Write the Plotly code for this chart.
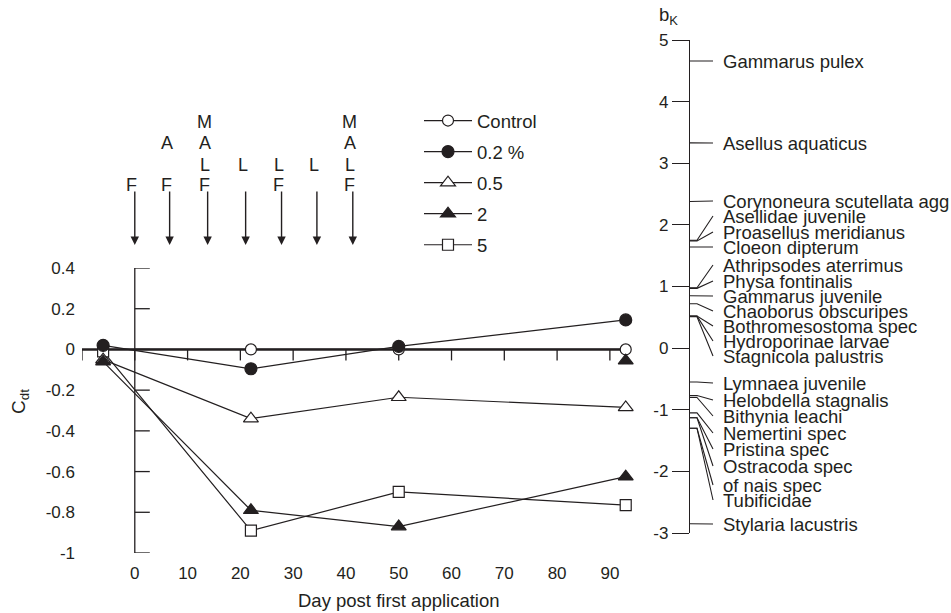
import plotly.graph_objects as go

# ---- data -------------------------------------------------------------
days = [-6, 22, 50, 93]
series_names = ["Control", "0.2 %", "0.5", "2", "5"]
control = [0.0, 0.0, 0.0, 0.0]
conc_02 = [0.02, -0.095, 0.015, 0.145]
conc_05 = [-0.05, -0.34, -0.235, -0.285]
conc_2 = [-0.06, -0.79, -0.87, -0.625]
conc_5 = [-0.01, -0.89, -0.70, -0.765]
extra_day = [93]
extra_val = [-0.055]

# application events (days) and their codes
event_days = [0, 6.6, 13.8, 21, 27.8, 34.5, 41.3]
event_codes = ["F", "AF", "MALF", "L", "LF", "L", "MALF"]

# species weights on the b_K axis
species = [
    "Gammarus pulex", "Asellus aquaticus", "Corynoneura scutellata agg",
    "Asellidae juvenile", "Proasellus meridianus", "Cloeon dipterum",
    "Athripsodes aterrimus", "Physa fontinalis", "Gammarus juvenile",
    "Chaoborus obscuripes", "Bothromesostoma spec", "Hydroporinae larvae",
    "Stagnicola palustris", "Lymnaea juvenile", "Helobdella stagnalis",
    "Bithynia leachi", "Nemertini spec", "Pristina spec", "Ostracoda spec",
    "of nais spec", "Tubificidae", "Stylaria lacustris",
]
b_k = [4.66, 3.33, 2.38, 1.75, 1.74, 1.64, 0.98, 0.97, 0.85, 0.72,
       0.52, 0.52, 0.51, -0.55, -0.77, -0.80, -1.05, -1.13, -1.13,
       -1.30, -1.30, -2.85]

x_ticks = [0, 10, 20, 30, 40, 50, 60, 70, 80, 90]
y_ticks = [0.4, 0.2, 0, -0.2, -0.4, -0.6, -0.8, -1]
bk_ticks = [5, 4, 3, 2, 1, 0, -1, -2, -3]

# ---- layout geometry --------------------------------------------------
W, H = 951, 613
ML, MR, MT, MB = 82, 0, 40, 60
PW, PH = W - ML - MR, H - MT - MB
XR = [-10, 94]
YR = [-1, 0.4]
BKR = [-3, 5]
x_dom_end = 549 / PW
y_dom_end = 285 / PH
bk_dom = [20 / PH, 1]
bk_axis_px = 690
INK = "#231f20"
FONT = "Liberation Sans, Arial, sans-serif"


def px_to_paper_y(p):
    return (H - MB - p) / PH


def px_to_bk(p):
    top = MT
    bottom = H - MB - bk_dom[0] * PH
    return BKR[1] - (p - top) / (bottom - top) * (BKR[1] - BKR[0])


def fmt(v):
    return f"{v:g}"


fig = go.Figure()

styles = {
    "Control": dict(symbol="circle", color="white", size=11),
    "0.2 %": dict(symbol="circle", color=INK, size=12),
    "0.5": dict(symbol="triangle-up", color="white", size=13),
    "2": dict(symbol="triangle-up", color=INK, size=13),
    "5": dict(symbol="square", color="white", size=11),
}
values = {"Control": control, "0.2 %": conc_02, "0.5": conc_05,
          "2": conc_2, "5": conc_5}

# stacking order of the markers (last drawn on top)
draw_order = ["Control", "5", "0.5", "2", "0.2 %"]
for name in draw_order:
    st = styles[name]
    fig.add_trace(go.Scatter(
        x=days, y=values[name], name=name, mode="lines+markers",
        line=dict(color=INK, width=1.2),
        marker=dict(symbol=st["symbol"], size=st["size"], color=st["color"],
                    line=dict(color=INK, width=1.2)),
        legendrank=series_names.index(name) + 1, legendgroup=name,
        cliponaxis=False,
    ))

fig.add_trace(go.Scatter(
    x=extra_day, y=extra_val, mode="markers", showlegend=False,
    cliponaxis=False,
    marker=dict(symbol="triangle-up", size=13, color=INK,
                line=dict(color=INK, width=1.2)),
))

# leader lines from the b_K axis to the species names
label_px = [61, 143, 201, 216, 232, 247, 265, 281, 296, 311, 326, 341, 356,
            383, 400, 416, 433, 449, 466, 485, 500, 524]
lx, ly = [], []
for b, lp in zip(b_k, label_px):
    lab = px_to_bk(lp)
    lx += [0, 7, 23, None]
    ly += [b, b, lab, None]
fig.add_trace(go.Scatter(
    x=lx, y=ly, mode="lines", showlegend=False, xaxis="x3", yaxis="y2",
    line=dict(color=INK, width=1.1), hoverinfo="skip", cliponaxis=False,
))

annotations = []
for name, lp in zip(species, label_px):
    annotations.append(dict(
        x=31, y=px_to_bk(lp), xref="x3", yref="y2", text=name,
        showarrow=False, xanchor="left", yanchor="middle",
        font=dict(size=18.5, color=INK, family=FONT),
    ))

# application arrows with event letters
tip_y = px_to_paper_y(245)
row_px = {"F": 185, "L": 165, "A": 143, "M": 122}
for d, code in zip(event_days, event_codes):
    annotations.append(dict(
        x=d, y=tip_y, xref="x", yref="paper", text="", showarrow=True,
        ax=0, ay=-55, arrowhead=2, arrowsize=1.2, arrowwidth=1.4,
        arrowcolor=INK, standoff=0,
    ))
    for ch in code:
        annotations.append(dict(
            x=d, y=px_to_paper_y(row_px[ch]), xref="x", yref="paper",
            text=ch, showarrow=False, xshift=-3, yanchor="middle",
            font=dict(size=18, color=INK, family=FONT),
        ))

annotations += [
    dict(xref="paper", yref="paper", x=(20 - ML) / PW,
         y=px_to_paper_y(402), text="C<sub>dt</sub>", textangle=-90,
         showarrow=False, xanchor="center", yanchor="middle",
         font=dict(size=19, color=INK, family=FONT)),
    dict(xref="paper", yref="paper", x=(399 - ML) / PW,
         y=px_to_paper_y(600), text="Day post first application",
         showarrow=False, xanchor="center", yanchor="middle",
         font=dict(size=18.5, color=INK, family=FONT)),
    dict(xref="paper", yref="paper", x=(668 - ML) / PW,
         y=px_to_paper_y(16), text="b<sub>K</sub>",
         showarrow=False, xanchor="center", yanchor="middle",
         font=dict(size=18.5, color=INK, family=FONT)),
]

# tick marks: inward on the C_dt axis, downward on the zero line
shapes = []
for v in y_ticks:
    shapes.append(dict(
        type="line", xref="x", xsizemode="pixel", xanchor=0, x0=0, x1=15,
        yref="y", y0=v, y1=v, layer="below",
        line=dict(color=INK, width=1.3),
    ))
for v in [-10] + x_ticks:
    shapes.append(dict(
        type="line", xref="x", x0=v, x1=v, yref="y", ysizemode="pixel",
        yanchor=0, y0=0, y1=-11, layer="below",
        line=dict(color=INK, width=1.3),
    ))
# zero line acting as the time axis
shapes.append(dict(
    type="line", xref="x", x0=XR[0], x1=XR[1], yref="y", y0=0, y1=0,
    layer="below", line=dict(color=INK, width=2.6),
))
# C_dt axis line at day 0
shapes.append(dict(
    type="line", xref="x", x0=0, x1=0, yref="y", y0=YR[0], y1=YR[1],
    layer="below", line=dict(color=INK, width=1.3),
))

fig.update_layout(
    width=W, height=H,
    margin=dict(l=ML, r=MR, t=MT, b=MB, pad=0),
    paper_bgcolor="white", plot_bgcolor="white",
    font=dict(family=FONT, color=INK, size=17),
    showlegend=True,
    legend=dict(
        x=(419 - ML) / PW, y=px_to_paper_y(102), xanchor="left",
        yanchor="top", font=dict(size=18.5, color=INK),
        tracegroupgap=4, itemwidth=48, bgcolor="rgba(0,0,0,0)",
    ),
    xaxis=dict(
        domain=[0, x_dom_end], range=XR, anchor="y",
        showline=False, showgrid=False, zeroline=False, ticks="",
        tickvals=x_ticks, ticktext=[fmt(v) for v in x_ticks],
        tickfont=dict(size=17), ticklabelstandoff=8,
    ),
    yaxis=dict(
        domain=[0, y_dom_end], range=YR, anchor="x",
        showline=False, showgrid=False, zeroline=False, ticks="",
        tickvals=y_ticks, ticktext=[fmt(v) for v in y_ticks],
        tickfont=dict(size=17), ticklabelstandoff=6,
    ),
    xaxis3=dict(
        domain=[(bk_axis_px - ML) / PW, 1], range=[0, W - bk_axis_px],
        anchor="y2", visible=False,
    ),
    yaxis2=dict(
        domain=bk_dom, range=BKR, anchor="x3", side="left",
        showline=True, linewidth=1.3, linecolor=INK, showgrid=False,
        zeroline=False, ticks="outside", ticklen=17, tickwidth=1.3,
        tickcolor=INK, tickvals=bk_ticks, ticktext=[fmt(v) for v in bk_ticks],
        tickfont=dict(size=17),
    ),
    annotations=annotations,
    shapes=shapes,
)

fig.write_html("out.html")
